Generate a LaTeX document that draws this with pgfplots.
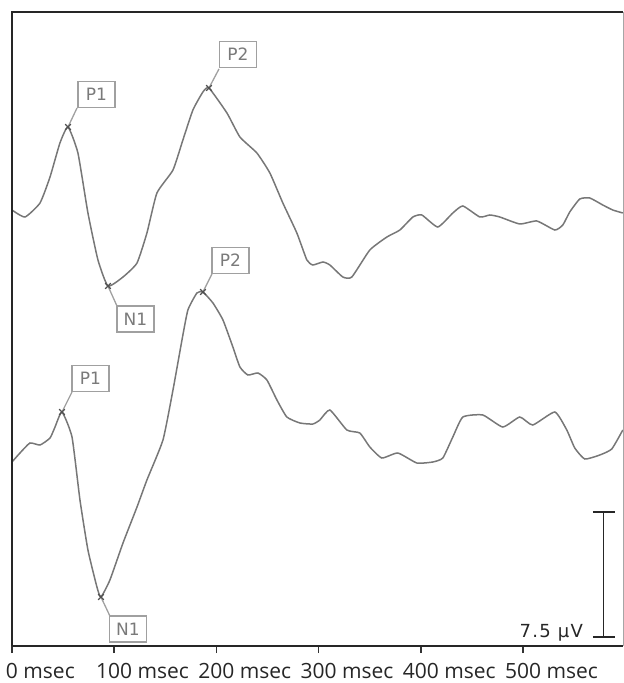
\documentclass[border=0pt]{standalone}
\usepackage{pgfplots}
\pgfplotsset{compat=1.18}
\usepackage{fontspec}
\newfontfamily\tickfont{Open Sans}
\newfontfamily\peakfont{DejaVu Sans}
\newfontfamily\barfont[LetterSpace=7]{DejaVu Sans}
\definecolor{trace}{HTML}{777777}
\definecolor{boxgray}{HTML}{A0A0A0}
\definecolor{peaktext}{HTML}{7A7A7A}
\definecolor{markgray}{HTML}{505050}
\tikzset{peak/.style={draw=boxgray, line width=1.6pt, fill=white, text=peaktext,
    font=\peakfont\fontsize{17}{17}\selectfont, minimum width=37pt, minimum height=26pt, inner sep=0pt}}

\begin{document}
\begin{tikzpicture}
  \begin{axis}[
      width=611pt, height=634pt, scale only axis,
      xmin=0, xmax=597.8, ymin=0, ymax=634,
      axis line style={draw=none},
      xtick={0,100,200,300,400,500},
      xticklabels={0\rlap{\ msec},100\rlap{\ msec},200\rlap{\ msec},300\rlap{\ msec},400\rlap{\ msec},500\rlap{\ msec}},
      ytick=\empty,
      xtick pos=bottom, tick align=outside,
      major tick length=7pt,
      every tick/.style={black!80, line width=1.5pt},
      xticklabel style={font=\tickfont\fontsize{21}{21}\selectfont, text=black!85, inner sep=0pt, anchor=north, yshift=-10pt},
      clip=false,
    ]

    % upper waveform
    \addplot[trace, line width=1.5pt, smooth, tension=0.3] coordinates {
      (0,436) (12.7,429) (27.4,443) (37.2,469) (46.9,503) (54.8,519) (64.5,493)
      (74.3,433) (84.1,386) (93.9,360) (108.6,369) (122.3,383) (132.0,413)
      (141.8,453) (157.5,476) (167.2,506) (177.0,536) (186.8,554) (192.7,558)
      (210.3,533) (223.0,509) (239.6,493) (252.3,473) (265.0,443) (278.7,413)
      (288.5,386) (294.4,381) (304.2,384) (311.0,381) (323.7,369) (332.5,369)
      (350.1,396) (366.8,409) (379.5,416) (392.2,429) (401.0,431) (416.6,419)
      (431.3,433) (441.1,440) (457.7,429) (467.5,431) (477.3,429) (496.8,422)
      (513.5,425) (531.1,416) (538.9,421) (545.7,434) (555.5,447) (565.3,448)
      (578.0,441) (587.8,436) (597.6,433)
    };

    % lower waveform
    \addplot[trace, line width=1.5pt, smooth, tension=0.3] coordinates {
      (0,184) (7.8,193) (17.6,203) (27.4,201) (37.2,208) (42.1,219) (48.9,234)
      (58.7,209) (66.5,146) (74.3,96) (83.1,59) (87.0,49) (95.8,66) (108.6,103)
      (122.3,139) (132.0,166) (147.7,206) (157.5,256) (166.3,306) (172.1,336)
      (180.9,353) (186.8,354) (196.6,343) (206.4,326) (216.1,299) (223.0,279)
      (230.8,271) (240.6,273) (249.4,266) (259.2,246) (268.9,229) (281.7,223)
      (294.4,222) (301.2,226) (311.0,236) (327.6,216) (340.3,213) (350.1,199)
      (361.9,188) (377.5,193) (396.1,183) (411.7,184) (421.5,188) (431.3,209)
      (441.1,229) (460.6,231) (480.2,219) (496.8,229) (509.5,221) (531.1,234)
      (542.8,216) (550.6,198) (560.4,187) (575.1,191) (586.8,197) (597.6,216)
    };

    % peak marks
    \addplot[only marks, mark=x, mark size=4pt, markgray, line width=1.2pt] coordinates {
      (54.8,519) (93.9,360) (192.7,558) (48.9,234) (87.0,49) (186.8,354)
    };

    % leaders
    \draw[boxgray, line width=1.3pt] (axis cs:54.8,519) -- (axis cs:63.6,538);
    \draw[boxgray, line width=1.3pt] (axis cs:192.7,558) -- (axis cs:202.5,577);
    \draw[boxgray, line width=1.3pt] (axis cs:93.9,360) -- (axis cs:102.7,340);
    \draw[boxgray, line width=1.3pt] (axis cs:186.8,354) -- (axis cs:195.6,372);
    \draw[boxgray, line width=1.3pt] (axis cs:48.9,234) -- (axis cs:58.7,254);
    \draw[boxgray, line width=1.3pt] (axis cs:87.0,49) -- (axis cs:95.8,30);

    % peak labels
    \node[peak] at (axis cs:82.7,551.5) {P1};
    \node[peak] at (axis cs:221.1,591.5) {P2};
    \node[peak] at (axis cs:120.8,327) {N1};
    \node[peak] at (axis cs:213.8,385.5) {P2};
    \node[peak] at (axis cs:76.8,267.5) {P1};
    \node[peak] at (axis cs:113.5,17) {N1};

    % scale bar
    \draw[black!85, line width=1.6pt] (axis cs:578.9,134) -- (axis cs:578.9,9);
    \draw[black!85, line width=1.6pt] (axis cs:568.2,134) -- (axis cs:589.7,134);
    \draw[black!85, line width=1.6pt] (axis cs:568.2,9) -- (axis cs:589.7,9);
    \node[anchor=base east, inner sep=0pt, text=black!85, font=\barfont\fontsize{18}{18}\selectfont]
      at (axis cs:558.7,9) {7.5 µV};

    % frame
    \draw[black!85, line width=2pt] (axis cs:0,0) -- (axis cs:0,634) -- (axis cs:597.8,634);
    \draw[black!35, line width=1pt] (axis cs:597.8,634) -- (axis cs:597.8,0);
    \draw[black!85, line width=2pt] (axis cs:0,0) -- (axis cs:597.8,0);

    % page extent
    \path (axis cs:0,0) ++(-12pt,-37pt) (axis cs:597.8,634) ++(1pt,12pt);
  \end{axis}
\end{tikzpicture}
\end{document}
